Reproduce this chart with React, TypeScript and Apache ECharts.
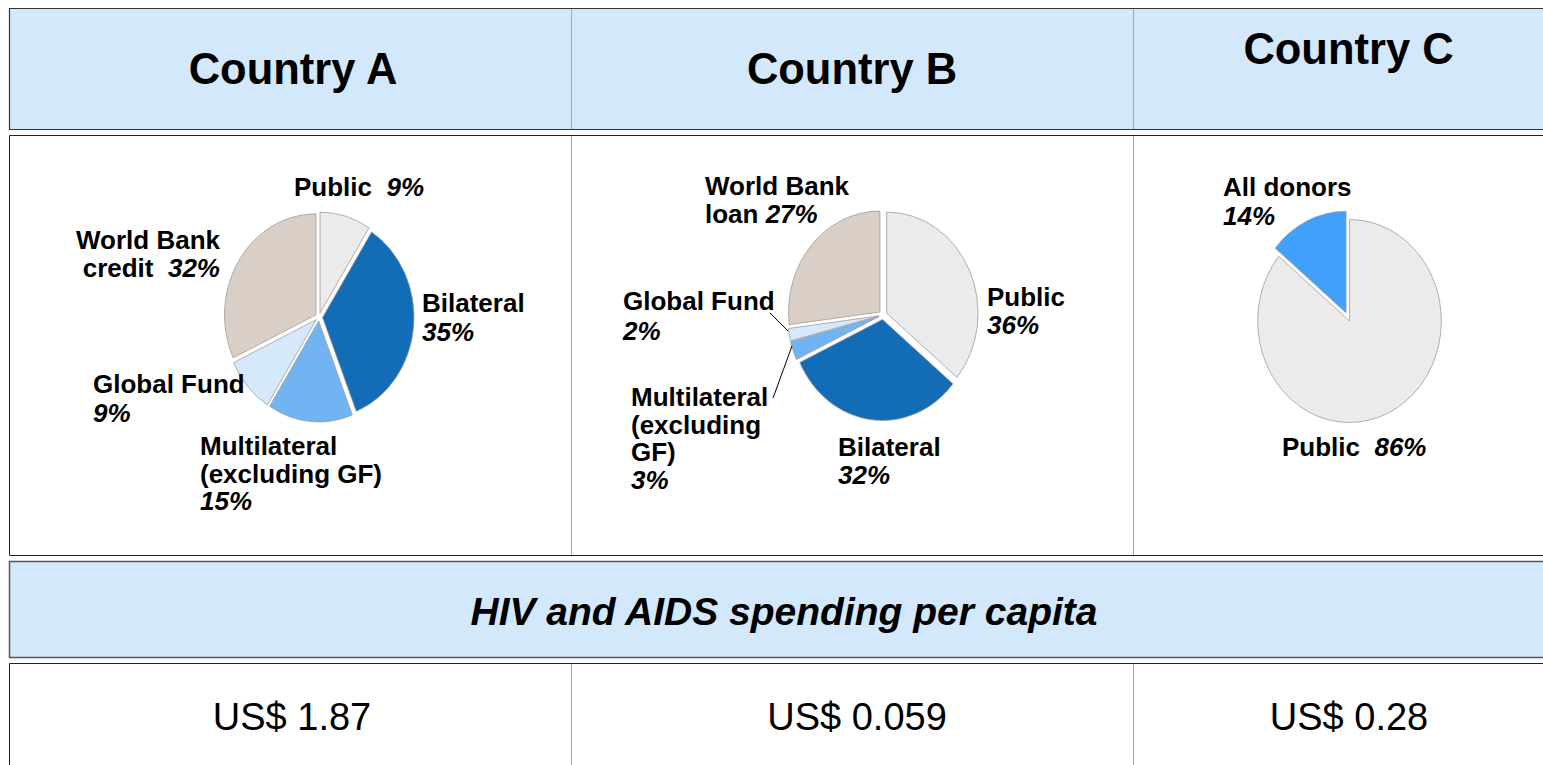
import React, { useEffect, useRef } from "react";
import * as echarts from "echarts";

const W = 1543;
const H = 765;
const SQUISH = 0.905; // pies in the original are slightly narrower than tall

const FONT = "'Liberation Sans', Arial, Helvetica, sans-serif";

// ---------- data ----------
const countries = ["Country A", "Country B", "Country C"];
const perCapita = ["US$ 1.87", "US$ 0.059", "US$ 0.28"];
const bandTitle = "HIV and AIDS spending per capita";

const sourcesA = ["Public", "Bilateral", "Multilateral (excluding GF)", "Global Fund", "World Bank credit"];
const sharesA = [9, 35, 15, 9, 32];

const sourcesB = ["Public", "Bilateral", "Multilateral (excluding GF)", "Global Fund", "World Bank loan"];
const sharesB = [36, 32, 3, 2, 27];

const sourcesC = ["Public", "All donors"];
const sharesC = [86, 14];

// ---------- styles ----------
const colorOf: Record<string, string> = {
  "Public": "#ebebeb",
  "Bilateral": "#136cb6",
  "Multilateral (excluding GF)": "#70b5f1",
  "Global Fund": "#d5e8fc",
  "World Bank credit": "#d9cfc7",
  "World Bank loan": "#d9cfc7",
  "All donors": "#40a0fc",
};
const BAND = "#d4e8fc";

// ---------- layout ----------
const TABLE_L = 9.5;
const TABLE_R = 1565;
const COL_X = [571.5, 1133.5];
const COL_CX = [293, 852, 1348.5];
const VAL_CX = [292, 857, 1349];
const ROWS = { head: [8.5, 129.5], pies: [135.5, 555.5], band: [561.5, 657.5], value: [663.5, 800] };
const HEAD_Y = [69, 69, 49];

type Lay = { x: number; y: number; align?: string; lh?: number; wrap: number[]; own: boolean; sep?: string; leader?: number[] };

const pieGeom = [
  { cx: 319, cy: 317, r: 101, offset: 4, selected: [true, true, true, true, true] },
  { cx: 883, cy: 315, r: 101, offset: 4.5, selected: [true, true, true, true, true] },
  { cx: 1349.5, cy: 321, r: 101.5, offset: 9, selected: [false, true] },
];

const layA: Lay[] = [
  { x: 294, y: 187, wrap: [1], own: false, sep: "  " },
  { x: 422, y: 303, lh: 29, wrap: [1], own: true },
  { x: 200, y: 446, lh: 27.5, wrap: [1, 2], own: true },
  { x: 93, y: 384, lh: 28.5, wrap: [2], own: true },
  { x: 220, y: 240, lh: 28, align: "right", wrap: [2, 1], own: false, sep: "  " },
];
const layB: Lay[] = [
  { x: 987, y: 297, lh: 28, wrap: [1], own: true },
  { x: 838, y: 447, lh: 28, wrap: [1], own: true },
  { x: 631, y: 397, lh: 27.7, wrap: [1, 1, 1], own: true, leader: [773, 398, 792, 346] },
  { x: 623, y: 301, lh: 30, wrap: [2], own: true, leader: [770, 313, 788, 331] },
  { x: 705, y: 186, lh: 28, wrap: [2, 1], own: false, sep: " " },
];
const layC: Lay[] = [
  { x: 1282, y: 447, wrap: [1], own: false, sep: "  " },
  { x: 1223, y: 187, lh: 29, wrap: [2], own: true },
];

function splitWords(name: string, counts: number[]): string[] {
  const w = name.split(" ");
  const out: string[] = [];
  let k = 0;
  counts.forEach((c, i) => {
    const last = i === counts.length - 1;
    out.push(w.slice(k, last ? w.length : k + c).join(" "));
    k += c;
  });
  return out;
}

const rich = {
  n: { fontFamily: FONT, fontSize: 26, fontWeight: "bold", fill: "#000", color: "#000" },
  p: { fontFamily: FONT, fontSize: 26, fontWeight: "bold", fontStyle: "italic", fill: "#000", color: "#000" },
};

function labelElements(names: string[], values: number[], lays: Lay[]) {
  const els: any[] = [];
  names.forEach((name, i) => {
    const lay = lays[i];
    const lines = splitWords(name, lay.wrap).map((s) => `{n|${s}}`);
    const pct = `{p|${values[i]}%}`;
    if (lay.own) lines.push(pct);
    else lines[lines.length - 1] += (lay.sep || " ") + pct;
    lines.forEach((ln, j) => {
      els.push({
        type: "text",
        x: lay.x,
        y: lay.y + j * (lay.lh || 28),
        z: 10,
        silent: true,
        style: {
          text: ln,
          rich,
          fontFamily: FONT,
          fontSize: 26,
          fontWeight: "bold",
          fill: "#000",
          align: lay.align || "left",
          verticalAlign: "middle",
        },
      });
    });
    if (lay.leader) {
      const [x1, y1, x2, y2] = lay.leader;
      els.push({
        type: "line",
        z: 9,
        silent: true,
        shape: { x1, y1, x2, y2 },
        style: { stroke: "#000", lineWidth: 1 },
      });
    }
  });
  return els;
}

function pieSeries(names: string[], values: number[], g: any) {
  return {
    type: "pie",
    silent: true,
    center: [g.cx / SQUISH, g.cy],
    radius: g.r,
    startAngle: 90,
    clockwise: true,
    selectedMode: "multiple",
    selectedOffset: g.offset,
    label: { show: false },
    labelLine: { show: false },
    emphasis: { disabled: true },
    itemStyle: { borderColor: "#9a9a9a", borderWidth: 0.8 },
    select: { itemStyle: { borderColor: "#9a9a9a", borderWidth: 0.8 } },
    data: names.map((n, i) => ({
      name: n,
      value: values[i],
      selected: g.selected[i],
      itemStyle: { color: colorOf[n] },
      select: { itemStyle: { color: colorOf[n], borderColor: "#9a9a9a", borderWidth: 0.8 } },
    })),
  };
}

export default function App() {
  const pieRef = useRef<HTMLDivElement>(null);
  const baseRef = useRef<HTMLDivElement>(null);

  useEffect(() => {
    if (!pieRef.current || !baseRef.current) return;
    const pie = echarts.init(pieRef.current, null, { renderer: "svg" });
    const base = echarts.init(baseRef.current, null, { renderer: "svg" });

    pie.setOption({
      animation: false,
      backgroundColor: "#ffffff",
      series: [
        pieSeries(sourcesA, sharesA, pieGeom[0]),
        pieSeries(sourcesB, sharesB, pieGeom[1]),
        pieSeries(sourcesC, sharesC, pieGeom[2]),
      ],
    });

    const els: any[] = [];
    const rowRect = (y0: number, y1: number, fill: string, stroke: string, lw: number) => ({
      type: "rect",
      z: 1,
      silent: true,
      shape: { x: TABLE_L, y: y0, width: TABLE_R - TABLE_L, height: y1 - y0 },
      style: { fill, stroke, lineWidth: lw },
    });
    els.push(rowRect(ROWS.head[0], ROWS.head[1], BAND, "#333", 1.2));
    els.push(rowRect(ROWS.pies[0], ROWS.pies[1], "none", "#222", 1));
    els.push(rowRect(ROWS.band[0], ROWS.band[1], BAND, "#555", 1.5));
    els.push(rowRect(ROWS.value[0], ROWS.value[1], "none", "#222", 1));
    [ROWS.head, ROWS.pies, ROWS.value].forEach((r) => {
      COL_X.forEach((x) => {
        els.push({
          type: "line",
          z: 2,
          silent: true,
          shape: { x1: x, y1: r[0] + 0.5, x2: x, y2: r[1] - 0.5 },
          style: { stroke: "#a6a6a6", lineWidth: 1 },
        });
      });
    });

    countries.forEach((c, i) => {
      els.push({
        type: "text",
        x: COL_CX[i],
        y: HEAD_Y[i],
        z: 10,
        silent: true,
        style: { text: c, fontFamily: FONT, fontSize: 43.5, fontWeight: "bold", fill: "#000", align: "center", verticalAlign: "middle" },
      });
    });

    els.push({
      type: "text",
      x: 784,
      y: 611,
      z: 10,
      silent: true,
      style: { text: bandTitle, fontFamily: FONT, fontSize: 39, fontWeight: "bold", fontStyle: "italic", fill: "#000", align: "center", verticalAlign: "middle" },
    });

    perCapita.forEach((v, i) => {
      els.push({
        type: "text",
        x: VAL_CX[i],
        y: 717,
        z: 10,
        silent: true,
        style: { text: v, fontFamily: FONT, fontSize: 38, fontWeight: "normal", fill: "#000", align: "center", verticalAlign: "middle" },
      });
    });

    els.push(...labelElements(sourcesA, sharesA, layA));
    els.push(...labelElements(sourcesB, sharesB, layB));
    els.push(...labelElements(sourcesC, sharesC, layC));

    base.setOption({
      animation: false,
      backgroundColor: "transparent",
      graphic: els,
    });

    return () => {
      pie.dispose();
      base.dispose();
    };
  }, []);

  return (
    <div style={{ position: "absolute", left: 0, top: 0, width: W, height: H, overflow: "hidden", background: "#fff" }}>
      <div
        ref={pieRef}
        style={{
          position: "absolute",
          left: 0,
          top: 0,
          width: W / SQUISH,
          height: H,
          transform: `scaleX(${SQUISH})`,
          transformOrigin: "0 0",
        }}
      />
      <div ref={baseRef} style={{ position: "absolute", left: 0, top: 0, width: W, height: H }} />
    </div>
  );
}
